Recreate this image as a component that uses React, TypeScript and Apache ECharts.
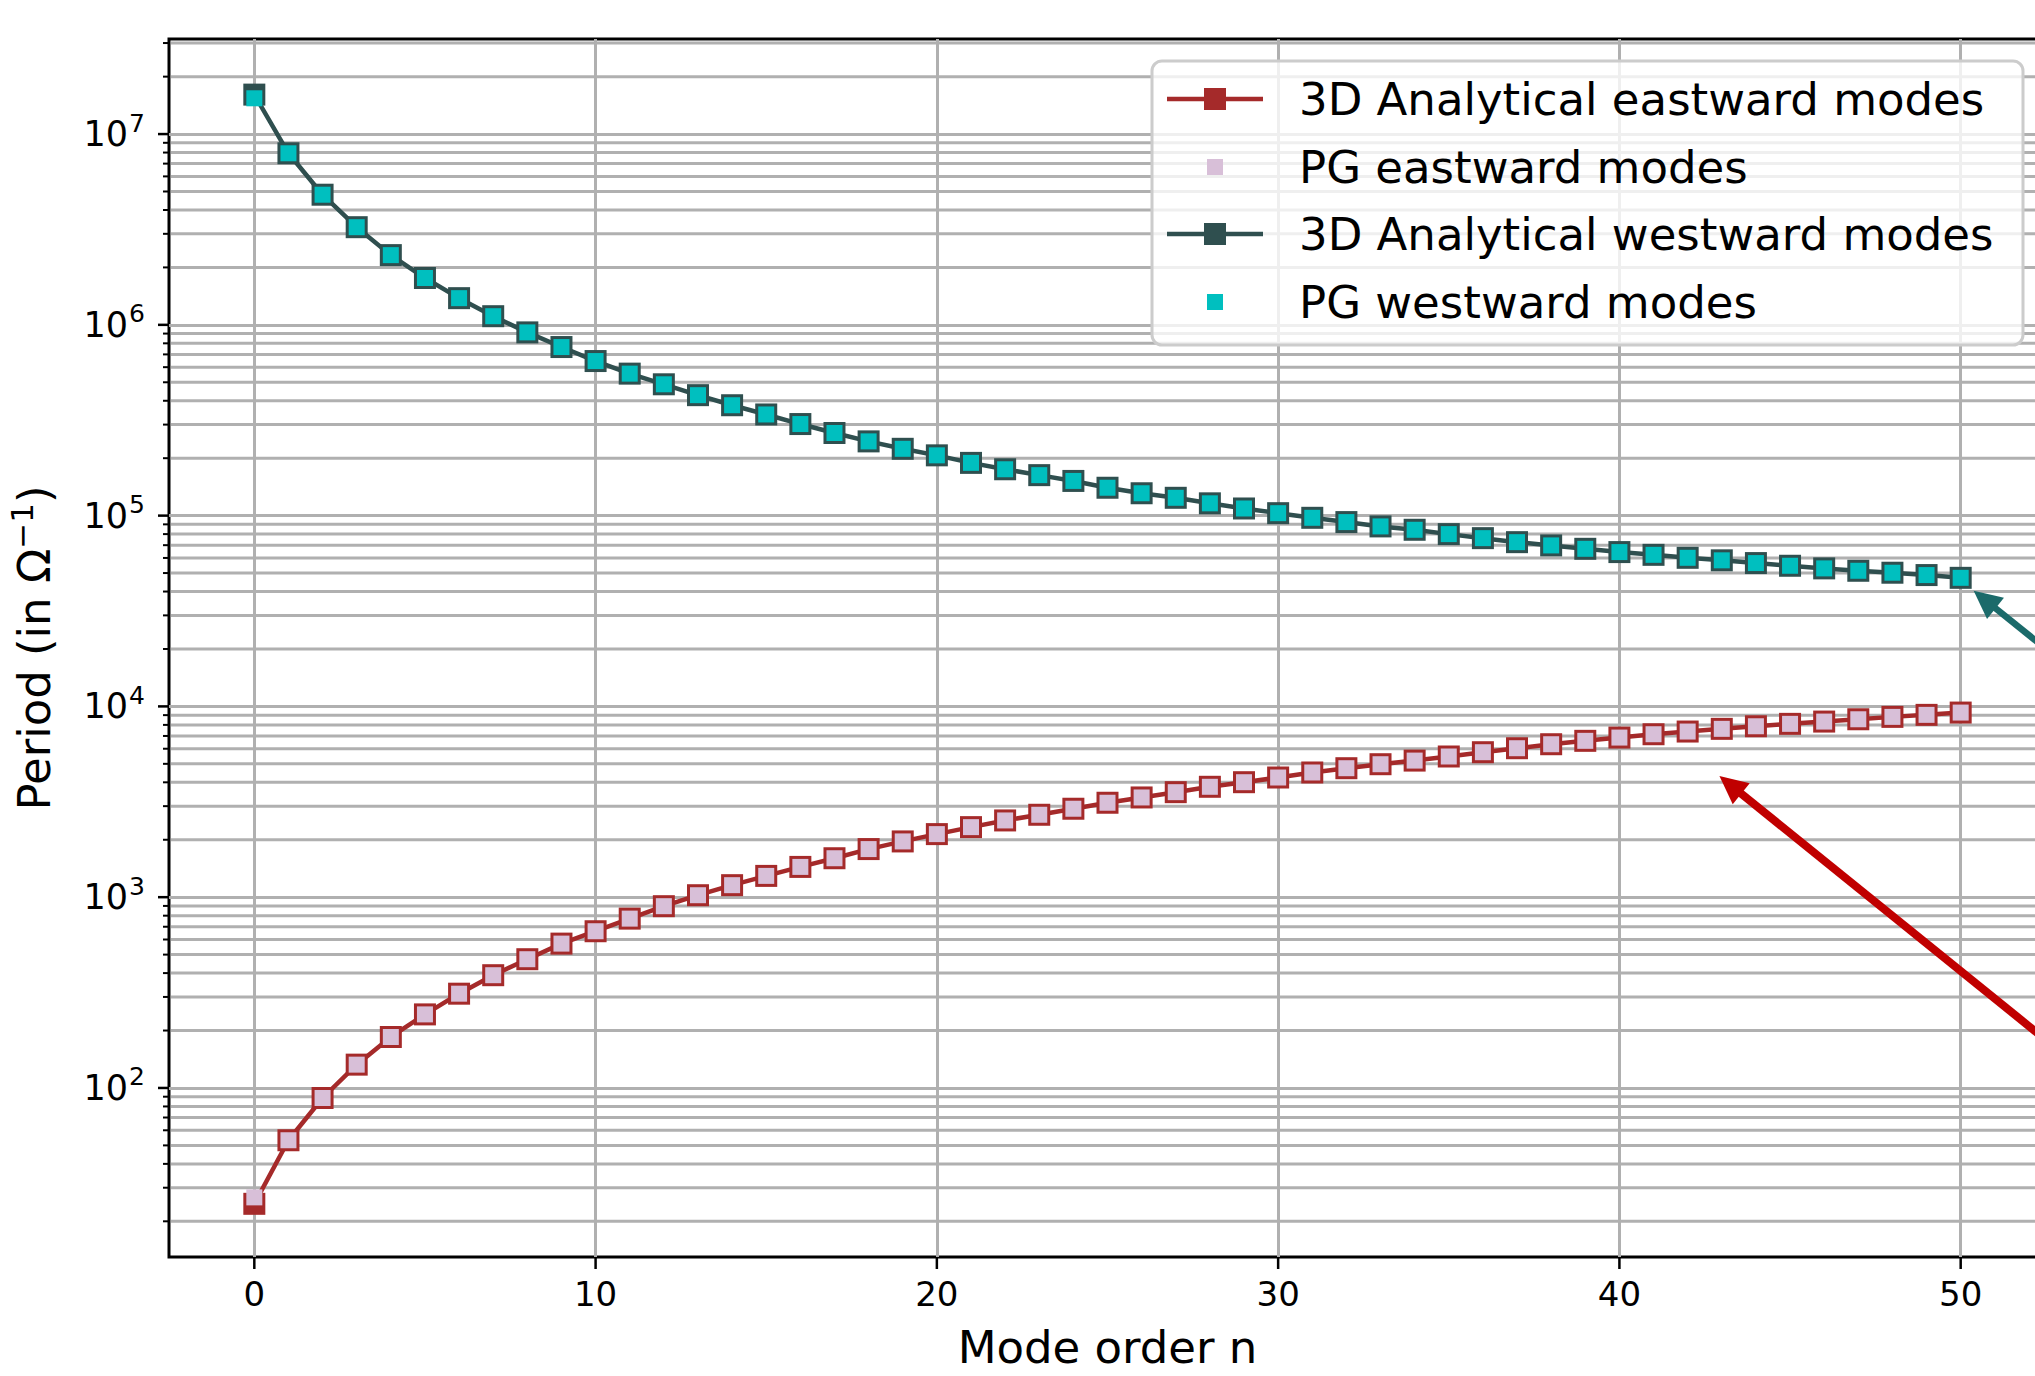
import React, { useEffect, useRef } from 'react';
import * as echarts from 'echarts';

const FONT = 'DejaVu Sans';

// ---------------- data ----------------
const modeOrder = [0, 1, 2, 3, 4, 5, 6, 7, 8, 9, 10, 11, 12, 13, 14, 15, 16, 17, 18, 19, 20, 21, 22, 23, 24, 25, 26, 27, 28, 29, 30, 31, 32, 33, 34, 35, 36, 37, 38, 39, 40, 41, 42, 43, 44, 45, 46, 47, 48, 49, 50];

const eastward3D = [24.7, 53.2, 88.6, 132.5, 185, 243, 312, 390, 473, 571, 663, 772, 897, 1024, 1156, 1293, 1441, 1600, 1787, 1960, 2141, 2329, 2525, 2704, 2908, 3126, 3332, 3552, 3790, 4006, 4239, 4504, 4743, 4977, 5200, 5463, 5753, 6037, 6335, 6600, 6865, 7147, 7383, 7627, 7869, 8101, 8327, 8562, 8813, 9029, 9283];
const eastwardPG = [26.7, 53.2, 88.6, 132.5, 185, 243, 312, 390, 473, 571, 663, 772, 897, 1024, 1156, 1293, 1441, 1600, 1787, 1960, 2141, 2329, 2525, 2704, 2908, 3126, 3332, 3552, 3790, 4006, 4239, 4504, 4743, 4977, 5200, 5463, 5753, 6037, 6335, 6600, 6865, 7147, 7383, 7627, 7869, 8101, 8327, 8562, 8813, 9029, 9283];

const westward3D = [1.61e7, 7.93e6, 4.81e6, 3.25e6, 2.32e6, 1.76e6, 1.38e6, 1.11e6, 9.13e5, 7.65e5, 6.46e5, 5.55e5, 4.88e5, 4.28e5, 3.79e5, 3.39e5, 3.02e5, 2.71e5, 2.45e5, 2.24e5, 2.07e5, 1.89e5, 1.75e5, 1.63e5, 1.52e5, 1.40e5, 1.31e5, 1.24e5, 1.16e5, 1.09e5, 1.03e5, 9.74e4, 9.25e4, 8.78e4, 8.43e4, 8.00e4, 7.62e4, 7.26e4, 6.98e4, 6.70e4, 6.44e4, 6.23e4, 6.01e4, 5.83e4, 5.64e4, 5.46e4, 5.29e4, 5.14e4, 5.02e4, 4.88e4, 4.72e4];
const westwardPG = [1.54e7, 7.93e6, 4.81e6, 3.25e6, 2.32e6, 1.76e6, 1.38e6, 1.11e6, 9.13e5, 7.65e5, 6.46e5, 5.55e5, 4.88e5, 4.28e5, 3.79e5, 3.39e5, 3.02e5, 2.71e5, 2.45e5, 2.24e5, 2.07e5, 1.89e5, 1.75e5, 1.63e5, 1.52e5, 1.40e5, 1.31e5, 1.24e5, 1.16e5, 1.09e5, 1.03e5, 9.74e4, 9.25e4, 8.78e4, 8.43e4, 8.00e4, 7.62e4, 7.26e4, 6.98e4, 6.70e4, 6.44e4, 6.23e4, 6.01e4, 5.83e4, 5.64e4, 5.46e4, 5.29e4, 5.14e4, 5.02e4, 4.88e4, 4.72e4];

const seriesNames = [
  '3D Analytical eastward modes',
  'PG eastward modes',
  '3D Analytical westward modes',
  'PG westward modes',
];

const xTickValues = [0, 10, 20, 30, 40, 50];
const yMajorTickValues = [1e2, 1e3, 1e4, 1e5, 1e6, 1e7];
const yMinorDecades = [10, 100, 1e3, 1e4, 1e5, 1e6, 1e7];
const yMinorMultipliers = [2, 3, 4, 5, 6, 7, 8, 9];

const X_MIN = -2.5;
const X_MAX = 52.5;
const Y_MIN = 13.0;
const Y_MAX = 3.15e7;

// annotation arrows (tail -> head centre), data coordinates
const redArrow = [[52.4, 184.5], [43.25, 3880]];
const tealArrow = [[52.4, 20690], [50.7, 36300]];

// ---------------- colours ----------------
const BROWN = '#a52a2a';
const THISTLE = '#d8bfd8';
const SLATE = '#2f4f4f';
const CYAN = '#00bfbf';
const GRID = '#b0b0b0';

export default function App() {
  const ref = useRef<HTMLDivElement>(null);

  useEffect(() => {
    if (!ref.current) return;
    const chart = echarts.init(ref.current, undefined, { renderer: 'svg' });

    const minorVals: number[] = [];
    yMinorDecades.forEach((d) => yMinorMultipliers.forEach((m) => {
      const v = d * m;
      if (v > Y_MIN && v < Y_MAX) minorVals.push(v);
    }));
    const tickData: number[][] = [];
    minorVals.forEach((v) => tickData.push([0, v, 0]));
    yMajorTickValues.forEach((v) => tickData.push([0, v, 1]));
    xTickValues.forEach((v) => tickData.push([v, 100, 2]));

    const pairs = (ys: number[]) => modeOrder.map((n, i) => [n, ys[i]]);

    const legendRowsY = [99, 167, 234, 302];
    const legendGraphics: any[] = [
      {
        type: 'rect', z: 100,
        shape: { x: 1152, y: 61, width: 871, height: 284, r: 10 },
        style: { fill: 'rgba(255,255,255,0.8)', stroke: '#cccccc', lineWidth: 3 },
      },
    ];
    const legendStyles = [
      { line: BROWN, size: 22, color: BROWN },
      { line: null, size: 16, color: THISTLE },
      { line: SLATE, size: 22, color: SLATE },
      { line: null, size: 16, color: CYAN },
    ];
    legendStyles.forEach((s, i) => {
      const cy = legendRowsY[i];
      if (s.line) {
        legendGraphics.push({
          type: 'line', z: 101,
          shape: { x1: 1167, y1: cy, x2: 1263, y2: cy },
          style: { stroke: s.line, lineWidth: 4.5 },
        });
      }
      legendGraphics.push({
        type: 'rect', z: 102,
        shape: { x: 1215 - s.size / 2, y: cy - s.size / 2, width: s.size, height: s.size },
        style: { fill: s.color },
      });
      legendGraphics.push({
        type: 'text', z: 103,
        x: 1299, y: cy,
        style: {
          text: seriesNames[i], fill: '#000', fontSize: 45, fontFamily: FONT,
          verticalAlign: 'middle', textVerticalAlign: 'middle', align: 'left', textAlign: 'left',
        },
      });
    });

    const option: any = {
      animation: false,
      backgroundColor: '#ffffff',
      textStyle: { fontFamily: FONT },
      grid: {
        left: 169, top: 39, width: 1877, height: 1218,
        outerBoundsMode: 'none',
        containLabel: false,
        show: true, borderColor: '#000', borderWidth: 3, backgroundColor: 'transparent',
      },
      xAxis: {
        type: 'value', min: X_MIN, max: X_MAX,
        axisLine: { show: false },
        axisTick: { show: false },
        axisLabel: {
          color: '#000', fontSize: 34, fontFamily: FONT, margin: 20,
          formatter: (v: number) => (Math.abs(v - Math.round(v / 10) * 10) < 1e-9 ? String(v) : ''),
        },
        splitLine: { show: true, showMinLine: false, showMaxLine: false, lineStyle: { color: GRID, width: 3 } },
        name: 'Mode order n', nameLocation: 'middle', nameGap: 68,
        nameTextStyle: { color: '#000', fontSize: 45, fontFamily: FONT },
      },
      yAxis: {
        type: 'log', logBase: 10, min: Y_MIN, max: Y_MAX,
        axisLine: { show: false },
        axisTick: { show: false },
        minorTick: { show: false },
        minorSplitLine: { show: false },
        axisLabel: {
          margin: 24,
          formatter: (v: number) => {
            const l = Math.log10(v);
            const e = Math.round(l);
            if (Math.abs(l - e) > 1e-6) return '';
            return '{b|10}{s|' + e + '}';
          },
          rich: {
            b: { fontSize: 35, fontFamily: FONT, color: '#000', verticalAlign: 'middle' },
            s: { fontSize: 25, fontFamily: FONT, color: '#000', verticalAlign: 'middle', padding: [0, 0, 22, 1] },
          },
        },
        splitLine: { show: true, showMinLine: false, showMaxLine: false, lineStyle: { color: GRID, width: 3 } },
        name: '{a|Period (in Ω}{s|−1}{a|)}',
        nameLocation: 'middle', nameGap: 106,
        nameTextStyle: {
          rich: {
            a: { fontSize: 45, fontFamily: FONT, color: '#000', verticalAlign: 'middle' },
            s: { fontSize: 31, fontFamily: FONT, color: '#000', verticalAlign: 'middle', padding: [0, 0, 26, 0] },
          },
        },
      },
      graphic: legendGraphics,
      series: [
        {
          type: 'custom', name: 'ticks', z: 1, silent: true,
          data: tickData,
          renderItem: (params: any, api: any) => {
            const cs = params.coordSys;
            const kind = api.value(2);
            if (kind === 2) {
              const p = api.coord([api.value(0), 100]);
              const yb = cs.y + cs.height;
              return {
                type: 'line',
                shape: { x1: p[0], y1: yb, x2: p[0], y2: yb + 12 },
                style: { stroke: '#000', lineWidth: 2.5 },
              };
            }
            const p = api.coord([0, api.value(1)]);
            if (kind === 1) {
              return {
                type: 'line',
                shape: { x1: cs.x - 11, y1: p[1], x2: cs.x, y2: p[1] },
                style: { stroke: '#000', lineWidth: 2.5 },
              };
            }
            return {
              type: 'group',
              children: [
                {
                  type: 'line',
                  shape: { x1: cs.x + 2, y1: p[1], x2: cs.x + cs.width, y2: p[1] },
                  style: { stroke: GRID, lineWidth: 3 },
                },
                {
                  type: 'line',
                  shape: { x1: cs.x - 6, y1: p[1], x2: cs.x, y2: p[1] },
                  style: { stroke: '#000', lineWidth: 2 },
                },
              ],
            };
          },
        },
        {
          name: seriesNames[0], type: 'line', z: 2,
          data: pairs(eastward3D),
          symbol: 'rect', symbolSize: 22, showAllSymbol: true,
          lineStyle: { color: BROWN, width: 4.5 },
          itemStyle: { color: BROWN },
        },
        {
          name: seriesNames[1], type: 'scatter', z: 3,
          data: pairs(eastwardPG),
          symbol: 'rect', symbolSize: 16,
          itemStyle: { color: THISTLE, opacity: 1 },
        },
        {
          name: seriesNames[2], type: 'line', z: 4,
          data: pairs(westward3D),
          symbol: 'rect', symbolSize: 22, showAllSymbol: true,
          lineStyle: { color: SLATE, width: 4.5 },
          itemStyle: { color: SLATE },
        },
        {
          name: seriesNames[3], type: 'scatter', z: 5,
          data: pairs(westwardPG),
          symbol: 'rect', symbolSize: 16,
          itemStyle: { color: CYAN, opacity: 1 },
          markLine: {
            silent: true,
            symbol: ['none', 'triangle'],
            symbolSize: [27, 28],
            label: { show: false },
            emphasis: { disabled: true },
            data: [
              [
                { coord: redArrow[0], lineStyle: { color: '#c00000', width: 8, type: 'solid' }, itemStyle: { color: '#c00000' } },
                { coord: redArrow[1] },
              ],
              [
                { coord: tealArrow[0], lineStyle: { color: '#1b6a6a', width: 6.5, type: 'solid' }, itemStyle: { color: '#1b6a6a' } },
                { coord: tealArrow[1] },
              ],
            ],
          },
        },
      ],
    };

    chart.setOption(option);
    return () => chart.dispose();
  }, []);

  return (
    <div
      ref={ref}
      style={{ position: 'fixed', left: 0, top: 0, width: 2035, height: 1376, background: '#fff' }}
    />
  );
}
